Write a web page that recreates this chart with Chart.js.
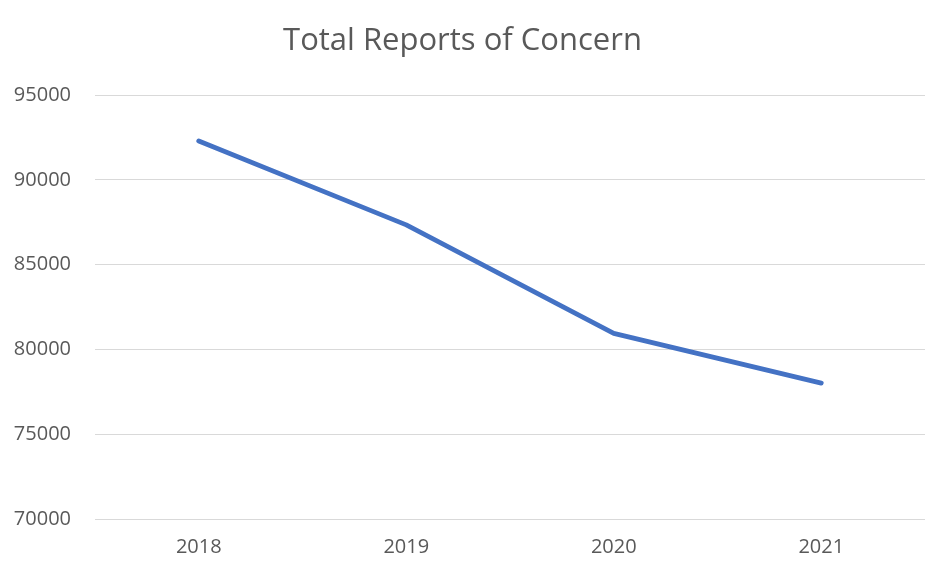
<!DOCTYPE html>
<html>
<head>
<meta charset="utf-8">
<script src="https://cdn.jsdelivr.net/npm/chart.js@4.4.1/dist/chart.umd.min.js"></script>
<style>
  html, body { margin: 0; padding: 0; background: #fff; }
</style>
</head>
<body>
<canvas id="lineChart" width="928" height="576"></canvas>
<script>
var years = ['2018', '2019', '2020', '2021'];
var reports = [92300, 87350, 80950, 78020];
var yTicks = [70000, 75000, 80000, 85000, 90000, 95000];

var ctx = document.getElementById('lineChart').getContext('2d');
var chart = new Chart(ctx, {
    type: 'line',
    data: {
        labels: years,
        datasets: [{
            label: 'Total Reports of Concern',
            data: reports,
            borderColor: '#4472C4',
            borderWidth: 4.8,
            borderCapStyle: 'round',
            borderJoinStyle: 'round',
            pointRadius: 0,
            tension: 0,
            fill: false
        }]
    },
    options: {
        responsive: false,
        animation: false,
        layout: { padding: { left: 0, right: 3, top: 0, bottom: 0 } },
        plugins: {
            legend: { display: false },
            tooltip: { enabled: false },
            title: {
                display: true,
                text: 'Total Reports of Concern',
                color: '#595959',
                font: { family: 'Open Sans', size: 31, weight: 'normal' },
                padding: { top: 23, bottom: 35 }
            }
        },
        scales: {
            x: {
                offset: true,
                grid: { display: false, drawTicks: false },
                border: { display: false },
                ticks: { color: '#595959', font: { family: 'Open Sans', size: 20 }, padding: 16 },
                afterFit: function (s) { s.height = 57; }
            },
            y: {
                min: yTicks[0],
                max: yTicks[yTicks.length - 1],
                afterBuildTicks: function (s) { s.ticks = yTicks.map(function (v) { return { value: v }; }); },
                grid: { color: '#d9d9d9', lineWidth: 1, drawTicks: false },
                border: { display: false },
                ticks: {
                    color: '#595959',
                    font: { family: 'Open Sans', size: 20 },
                    padding: 24,
                    callback: function (v) { return String(v); }
                },
                afterFit: function (s) { s.width = 95; }
            }
        }
    }
});
</script>
</body>
</html>
